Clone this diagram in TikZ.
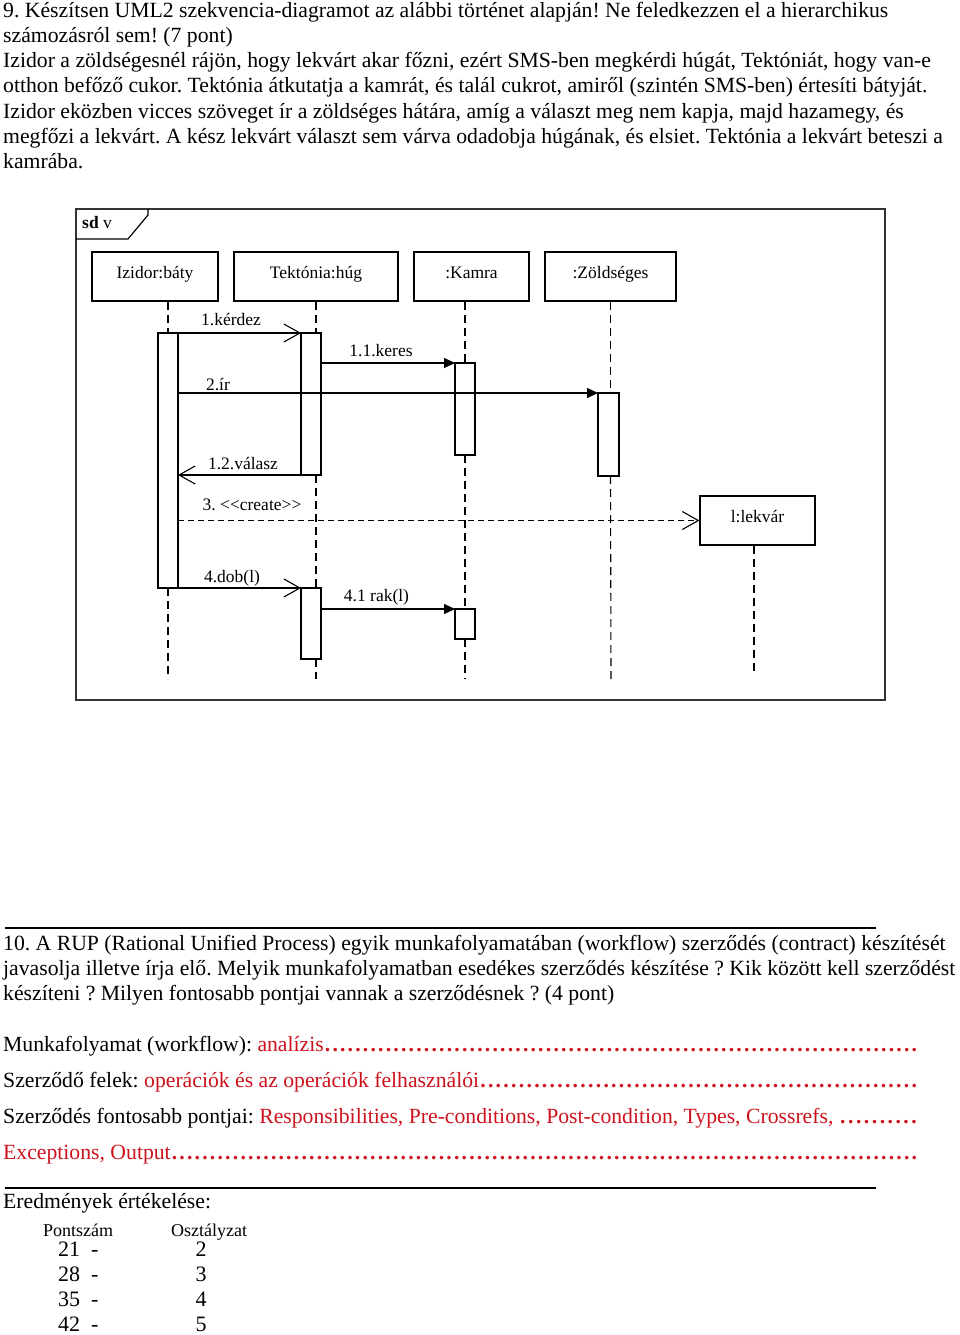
\documentclass[tikz,border=0pt]{standalone}
\usepackage{fontspec}
\setmainfont{Liberation Serif}
\usetikzlibrary{arrows.meta,positioning}
\definecolor{answerred}{RGB}{205,18,28}
\newcommand{\diagfont}{\fontsize{17.5}{20}\selectfont}
\newcommand{\bodyfont}{\fontsize{21.7}{25.3}\selectfont}
\newcommand{\leaderdots}{\xleaders\hbox to 7.6pt{\hss\textbf{.}\hss}\hfill}
\frenchspacing

\begin{document}
\begin{tikzpicture}[x=1pt,y=-1pt,
  lifehead/.style={draw, line width=1.2pt, minimum height=49pt, inner sep=0pt, text height=12pt, text depth=9pt, font=\diagfont},
  actbox/.style={draw, line width=1.2pt, fill=white, minimum width=20pt, inner sep=0pt, outer sep=0pt, anchor=north},
  lifeline/.style={line width=1.1pt, dash pattern=on 8pt off 5pt},
  callmsg/.style={line width=1.1pt, -{Triangle[length=11pt,width=10pt]}},
  asyncmsg/.style={line width=1.1pt, -{Straight Barb[length=16pt,width=18pt,line width=1.1pt]}},
  msglabel/.style={font=\diagfont, anchor=base, inner sep=0pt},
  bodytext/.style={font=\bodyfont, anchor=base west, inner sep=0pt, align=left}]

\useasboundingbox (0,0) rectangle (960,1335);

% task 9 (base anchor sits on the last line)
\node (task9_text) at (3,168.8) [bodytext] {9. Készítsen UML2 szekvencia-diagramot az alábbi történet alapján! Ne feledkezzen el a hierarchikus\\
számozásról sem! (7 pont)\\
Izidor a zöldségesnél rájön, hogy lekvárt akar főzni, ezért SMS-ben megkérdi húgát, Tektóniát, hogy van-e\\
otthon befőző cukor. Tektónia átkutatja a kamrát, és talál cukrot, amiről (szintén SMS-ben) értesíti bátyját.\\
Izidor eközben vicces szöveget ír a zöldséges hátára, amíg a választ meg nem kapja, majd hazamegy, és\\
megfőzi a lekvárt. A kész lekvárt választ sem várva odadobja húgának, és elsiet. Tektónia a lekvárt beteszi a\\
kamrába.};

% frame
\draw [line width=1.5pt, black!80] (76,209) rectangle (885,700);
\draw [line width=1.2pt] (76,239) -- (128,239) -- (148,215) -- (148,209);
\node (frame_tag) at (82,228) [anchor=base west, font=\diagfont, inner sep=0pt] {\textbf{sd} v};

% heads
\node (izidor_head) at (155,276.5) [lifehead, minimum width=126pt] {Izidor:báty};
\node (tekt_head) at (316,276.5) [lifehead, minimum width=164pt] {Tektónia:húg};
\node (kamra_head) at (471.5,276.5) [lifehead, minimum width=115pt] {:Kamra};
\node (zold_head) at (610.5,276.5) [lifehead, minimum width=131pt] {:Zöldséges};
\node (lekvar_head) at (757.5,520.5) [lifehead, minimum width=115pt] {l:lekvár};

\coordinate (izidor_end) at (168,679);
\coordinate (tekt_end) at (316,679);
\coordinate (kamra_end) at (465,679);
\coordinate (zold_end) at (611,679);
\coordinate (lekvar_end) at (754,673);

% activations
\node (izidor_act) at (168,333) [actbox, minimum height=255pt] {};
\node (tekt_act1) at (311,333) [actbox, minimum height=142pt] {};
\node (kamra_act1) at (465,363) [actbox, minimum height=92pt] {};
\node (zold_act) at (608.5,393) [actbox, minimum width=21pt, minimum height=83pt] {};
\node (tekt_act2) at (311,588) [actbox, minimum height=71pt] {};
\node (kamra_act2) at (465,609) [actbox, minimum height=30pt] {};

% lifelines
\draw [lifeline] (izidor_act.north |- izidor_head.south) -- (izidor_act.north);
\draw [lifeline] (izidor_act.south) -- (izidor_end);
\draw [lifeline] (tekt_head.south) -- (tekt_head.south |- tekt_act1.north);
\draw [lifeline] (tekt_head.south |- tekt_act1.south) -- (tekt_head.south |- tekt_act2.north);
\draw [lifeline] (tekt_head.south |- tekt_act2.south) -- (tekt_end);
\draw [lifeline] (kamra_act1.north |- kamra_head.south) -- (kamra_act1.north);
\draw [lifeline] (kamra_act1.south) -- (kamra_act2.north);
\draw [lifeline] (kamra_act2.south) -- (kamra_end);
\draw [lifeline] (zold_head.south) -- (zold_head.south |- zold_act.north);
\draw [lifeline] (zold_head.south |- zold_act.south) -- (zold_end);
\draw [lifeline] (lekvar_head.south -| lekvar_end) -- (lekvar_end);

% messages
\draw [asyncmsg] (izidor_act.north east) -- (tekt_act1.north west);
\draw [callmsg] (tekt_act1.east |- kamra_act1.north) -- (kamra_act1.north west);
\draw [callmsg] (izidor_act.east |- zold_act.north) -- (zold_act.north west);
\draw [asyncmsg] (tekt_act1.south west) -- (izidor_act.east |- tekt_act1.south);
\draw [asyncmsg, dash pattern=on 6pt off 4pt] (izidor_act.east |- lekvar_head.west) -- (lekvar_head.west);
\draw [asyncmsg] (izidor_act.south east) -- (tekt_act2.north west);
\draw [callmsg] (tekt_act2.east |- kamra_act2.north) -- (kamra_act2.north west);

\node (kerdez_lbl) at (231,325) [msglabel] {1.kérdez};
\node (keres_lbl) at (381,356) [msglabel] {1.1.keres};
\node (ir_lbl) at (218,390) [msglabel] {2.ír};
\node (valasz_lbl) at (243,469) [msglabel] {1.2.válasz};
\node (create_lbl) at (252,510) [msglabel] {3. <{}<create>{}>};
\node (dob_lbl) at (232,582) [msglabel] {4.dob(l)};
\node (rak_lbl) at (376.5,601) [msglabel] {4.1 rak(l)};

% task 10
\draw [line width=1.2pt] (5,928) -- (876,928);
\node (task10_text) at (3,1000.6) [bodytext] {10. A RUP (Rational Unified Process) egyik munkafolyamatában (workflow) szerződés (contract) készítését\\
javasolja illetve írja elő. Melyik munkafolyamatban esedékes szerződés készítése ? Kik között kell szerződést\\
készíteni ? Milyen fontosabb pontjai vannak a szerződésnek ? (4 pont)};

\node (answer_wf) at (3,1051) [bodytext] {\hbox to 915pt{Munkafolyamat (workflow): \textcolor{answerred}{analízis\leaderdots}}};
\node (answer_parties) at (3,1087) [bodytext] {\hbox to 915pt{Szerződő felek: \textcolor{answerred}{operációk és az operációk felhasználói\leaderdots}}};
\node (answer_points) at (3,1123) [bodytext] {\hbox to 915pt{Szerződés fontosabb pontjai: \textcolor{answerred}{Responsibilities, Pre-conditions, Post-condition, Types, Crossrefs, \leaderdots}}};
\node (answer_more) at (3,1159) [bodytext] {\hbox to 915pt{\textcolor{answerred}{Exceptions, Output\leaderdots}}};

% grading
\draw [line width=1.2pt] (5,1188) -- (876,1188);
\node (grade_title) at (3,1208) [bodytext] {Eredmények értékelése:};
\node (grade_pts_hdr) at (43,1236) [anchor=base west, inner sep=0pt, font=\fontsize{18}{20}\selectfont] {Pontszám};
\node (grade_mark_hdr) at (171,1236) [anchor=base west, inner sep=0pt, font=\fontsize{18}{20}\selectfont] {Osztályzat};
\foreach \pts/\mark [count=\row from 0] in {21/2,28/3,35/4,42/5} {
  \node (grade_pts_\row) at (58,1256+25.2*\row) [anchor=base west, inner sep=0pt, font=\fontsize{22}{25}\selectfont] {\pts\hspace{0.5em}-};
  \node (grade_mark_\row) at (201,1256+25.2*\row) [anchor=base, inner sep=0pt, font=\fontsize{22}{25}\selectfont] {\mark};
}
\end{tikzpicture}
\end{document}
